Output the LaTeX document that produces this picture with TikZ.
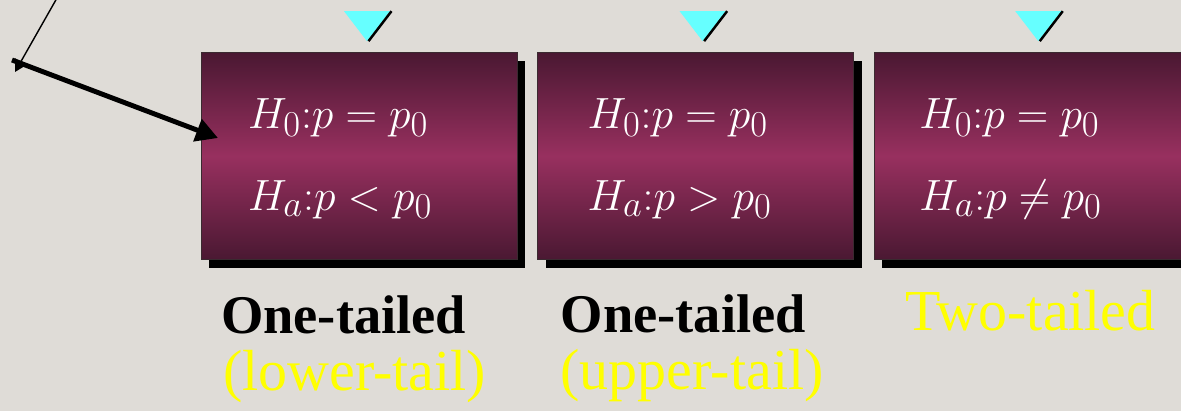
\documentclass[tikz,border=0pt]{standalone}
\usepackage{fontspec}
\setmainfont{Liberation Serif}
\usetikzlibrary{arrows.meta,positioning,calc,shadows}

\definecolor{slidebg}{HTML}{DFDCD7}
\definecolor{boxdark}{HTML}{4A1832}
\definecolor{boxmid}{HTML}{98305F}
\definecolor{boxedge}{HTML}{3A2A30}
\definecolor{markcyan}{HTML}{66FFFF}
\definecolor{tailyellow}{HTML}{FFFF00}

\begin{document}
\begin{tikzpicture}[
  x=0.02cm, y=-0.02cm,
  >=Triangle,
  hypbox/.style={draw=boxedge,line width=0.4pt,minimum width=6.32cm,minimum height=4.14cm,
    top color=boxdark,bottom color=boxdark,middle color=boxmid,
    drop shadow={shadow xshift=0.16cm,shadow yshift=-0.17cm,fill=black,opacity=1}},
  hyptext/.style={anchor=base west,text=white,inner sep=0pt,font=\fontsize{28}{32}\selectfont},
  tailname/.style={anchor=base west,inner sep=0pt,font=\fontsize{31}{35}\selectfont\bfseries},
  tailnote/.style={anchor=base west,inner sep=0pt,text=tailyellow,font=\fontsize{33}{38}\selectfont},
  cyanmark/.style={fill=markcyan}
]
\fill[slidebg] (0,0) rectangle (1181,411);
\clip (0,0) rectangle (1181,411);

% the three hypothesis boxes
\node[hypbox] (lowbox) at (359,156) {};
\node[hypbox,right=0.4cm of lowbox] (upbox) {};
\node[hypbox,right=0.4cm of upbox] (twobox) {};

% cyan markers above the boxes
\fill[cyanmark] ($(lowbox.north)+(8,-11)$) -- ++(-23,-30) -- ++(46,0) -- cycle;
\draw[line width=1.4pt] ($(lowbox.north)+(9.5,-11)$) -- ++(23,-30);
\fill[cyanmark] ($(upbox.north)+(7,-11)$) -- ++(-23,-30) -- ++(46,0) -- cycle;
\draw[line width=1.4pt] ($(upbox.north)+(8.5,-11)$) -- ++(23,-30);
\fill[cyanmark] ($(twobox.north)+(6,-11)$) -- ++(-23,-30) -- ++(46,0) -- cycle;
\draw[line width=1.4pt] ($(twobox.north)+(7.5,-11)$) -- ++(23,-30);

% hypotheses
\node[hyptext] (h0low) at ($(lowbox.north west)+(47,76)$) {$H_0{:}p = p_0$};
\node[hyptext] (halow) at ($(lowbox.north west)+(47,158)$) {$H_a{:}p < p_0$};
\node[hyptext] (h0up) at ($(upbox.north west)+(50,76)$) {$H_0{:}p = p_0$};
\node[hyptext] (haup) at ($(upbox.north west)+(50,158)$) {$H_a{:}p > p_0$};
\node[hyptext] (h0two) at ($(twobox.north west)+(45,76)$) {$H_0{:}p = p_0$};
\node[hyptext] (hatwo) at ($(twobox.north west)+(45,158)$) {$H_a{:}p \neq p_0$};

% names under the boxes
\node[tailname] (lowname) at ($(lowbox.south west)+(20,74)$) {One-tailed};
\node[tailnote] (lownote) at ($(lowbox.south west)+(22,131)$) {(lower-tail)};
\node[tailname] (upname) at ($(upbox.south west)+(23,73)$) {One-tailed};
\node[tailnote] (upnote) at ($(upbox.south west)+(23,130)$) {(upper-tail)};
\node[tailnote,font=\fontsize{33}{37}\selectfont] (twoname) at ($(twobox.south west)+(31,71)$) {Two-tailed};

% pointer
\coordinate (ptrtop) at (57,-2);
\coordinate (ptrend) at (15,72);
\coordinate (ptrbase) at (12,60);
\coordinate (ptrtip) at (218,138);
\draw[-{Triangle[length=0.24cm,width=0.26cm]},line width=0.8pt] (ptrtop) -- (ptrend);
\draw[-{Triangle[length=0.44cm,width=0.46cm]},line width=2.8pt] (ptrbase) -- (ptrtip);

\end{tikzpicture}
\end{document}
